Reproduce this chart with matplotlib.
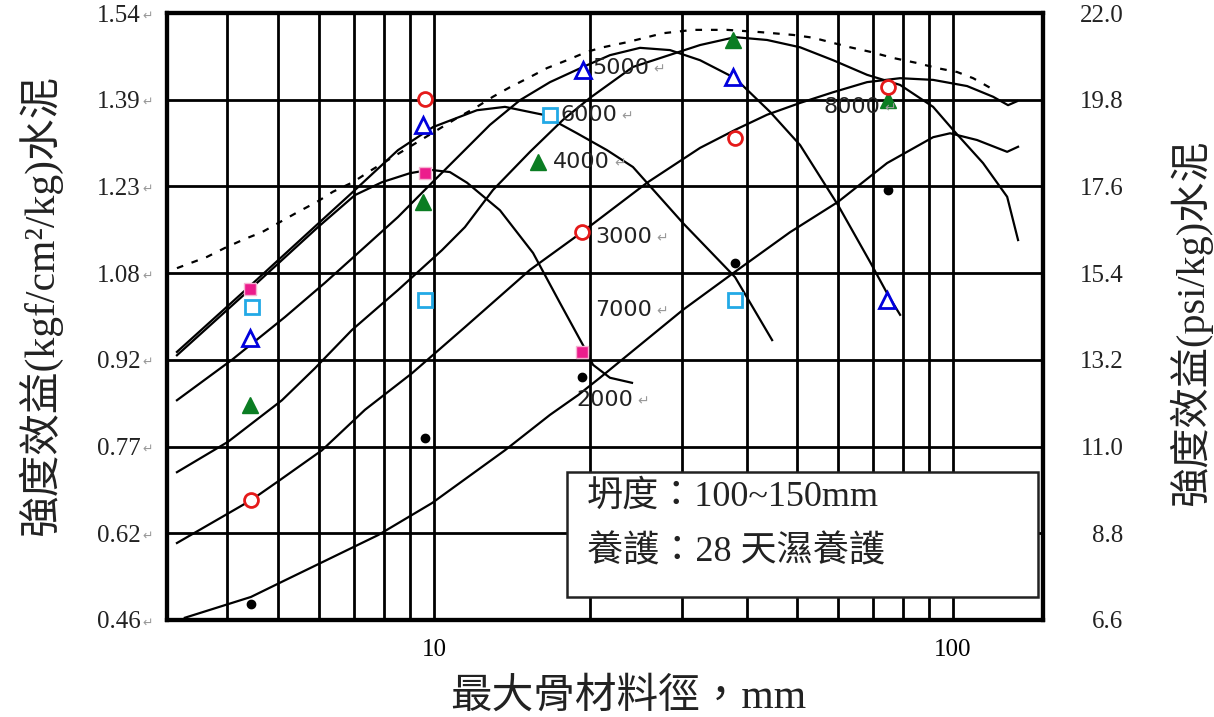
import matplotlib
matplotlib.use('Agg')
import matplotlib.pyplot as plt
from matplotlib.ticker import FixedLocator, NullFormatter
from matplotlib.patches import Rectangle

plt.rcParams['font.family'] = ['Liberation Serif', 'Noto Sans CJK TC']

# ---- curves: max aggregate size (mm) vs efficiency (kgf/cm2/kg) ----
pink_x = [3.198, 4.381, 5.978, 7.043, 7.942, 8.991, 9.824, 10.73, 11.58, 13.40, 15.52, 17.49, 19.37, 20.25, 21.83, 24.07]
pink_y = [0.931, 1.045, 1.159, 1.216, 1.239, 1.255, 1.261, 1.257, 1.238, 1.189, 1.113, 1.024, 0.949, 0.914, 0.891, 0.882]

cyan_x = [3.198, 4.381, 5.978, 7.043, 8.524, 9.955, 12.10, 13.70, 16.22, 18.86, 21.54, 24.17, 30.19, 38.02, 44.81]
cyan_y = [0.937, 1.051, 1.165, 1.225, 1.296, 1.337, 1.367, 1.373, 1.359, 1.326, 1.296, 1.266, 1.166, 1.070, 0.958]

blue_x = [3.198, 4.082, 5.163, 6.166, 7.363, 8.524, 9.911, 11.12, 12.82, 14.65, 16.73, 19.37, 21.83, 24.94,
          28.49, 32.55, 38.02, 44.41, 50.73, 60.04, 69.20, 74.96, 79.06]
blue_y = [0.851, 0.923, 0.999, 1.060, 1.124, 1.177, 1.238, 1.284, 1.341, 1.385, 1.417, 1.444, 1.465, 1.478,
          1.474, 1.456, 1.424, 1.364, 1.305, 1.198, 1.097, 1.038, 1.003]

green_x = [3.198, 4.010, 5.095, 5.899, 6.950, 8.524, 10.36, 11.47, 12.99, 15.31, 17.73, 19.98, 24.17, 32.55,
           38.02, 43.82, 50.73, 58.72, 68.28, 79.06, 91.52, 100.0, 114.2, 127.1, 133.4]
green_y = [0.723, 0.777, 0.851, 0.908, 0.976, 1.047, 1.118, 1.159, 1.225, 1.293, 1.350, 1.389, 1.444, 1.483,
           1.497, 1.492, 1.479, 1.456, 1.430, 1.412, 1.373, 1.332, 1.273, 1.213, 1.136]

red_x = [3.198, 4.440, 5.050, 6.085, 7.363, 9.070, 11.47, 15.31, 19.28, 25.73, 32.55, 38.02, 43.82, 50.73,
         58.72, 68.28, 79.06, 91.52, 106.4, 119.4, 127.6, 132.8]
red_y = [0.597, 0.673, 0.709, 0.762, 0.834, 0.899, 0.981, 1.083, 1.150, 1.238, 1.300, 1.332, 1.359, 1.380,
         1.399, 1.417, 1.424, 1.421, 1.410, 1.391, 1.376, 1.383]

black_x = [3.312, 4.440, 5.095, 7.802, 9.911, 13.70, 16.73, 18.94, 20.88, 30.19, 37.68, 48.52, 60.04, 74.62,
           91.52, 98.68, 111.2, 127.1, 133.4]
black_y = [0.464, 0.501, 0.528, 0.611, 0.668, 0.762, 0.825, 0.860, 0.891, 1.012, 1.077, 1.150, 1.204, 1.273,
           1.319, 1.326, 1.314, 1.293, 1.302]

dash_x = [3.198, 3.653, 3.956, 4.323, 4.663, 5.095, 5.470, 5.952, 6.389, 6.981, 7.594, 11.07, 12.10, 12.99,
          14.01, 15.31, 16.51, 18.04, 19.72, 21.16, 23.54, 27.62, 31.55, 36.69, 42.48, 49.17, 53.74, 63.32,
          69.20, 76.64, 85.24, 93.16, 101.8, 109.3, 117.8]
dash_y = [1.086, 1.106, 1.122, 1.138, 1.150, 1.170, 1.186, 1.204, 1.222, 1.239, 1.261, 1.353, 1.373, 1.391,
          1.408, 1.426, 1.442, 1.456, 1.471, 1.479, 1.488, 1.504, 1.510, 1.510, 1.506, 1.501, 1.496, 1.479,
          1.471, 1.460, 1.451, 1.442, 1.435, 1.424, 1.407]

# ---- measured points ----
pink_mx = [4.42, 9.61, 19.28]
pink_my = [1.049, 1.255, 0.937]
cyan_mx = [4.46, 9.61, 16.73, 38.02]
cyan_my = [1.017, 1.029, 1.359, 1.029]
blue_mx = [4.42, 9.52, 19.37, 37.68, 74.62]
blue_my = [0.962, 1.341, 1.438, 1.426, 1.029]
green_mx = [4.42, 9.52, 15.86, 37.68, 74.96]
green_my = [0.843, 1.204, 1.275, 1.492, 1.385]
red_mx = [4.44, 9.61, 19.28, 38.02, 74.96]
red_my = [0.673, 1.387, 1.150, 1.318, 1.408]
black_mx = [4.44, 9.61, 19.28, 38.02, 74.96]
black_my = [0.488, 0.784, 0.892, 1.095, 1.225]

# ---- curve labels ----
curve_labels = ['5000', '6000', '4000', '3000', '7000', '2000', '8000']
label_x = [20.16, 17.49, 16.95, 20.43, 20.43, 18.77, 56.17]
label_y = [1.442, 1.359, 1.275, 1.141, 1.012, 0.851, 1.373]

# ---- axes ticks ----
grid_x = [4, 5, 6, 7, 8, 9, 20, 30, 40, 50, 60, 70, 80, 90]
x_ticks = [10, 100]
y_ticks = [0.46 + k * 1.08 / 7 for k in range(8)]
y_labels = ['0.46', '0.62', '0.77', '0.92', '1.08', '1.23', '1.39', '1.54']
r_ticks = [6.6 + k * 2.2 for k in range(8)]
r_labels = ['6.6', '8.8', '11.0', '13.2', '15.4', '17.6', '19.8', '22.0']

fig = plt.figure(figsize=(12.14, 7.17), dpi=100)
ax = fig.add_axes([167 / 1214, 97 / 717, 876 / 1214, 607 / 717])
ax.set_xscale('log')
ax.set_xlim(3.06, 149)
ax.set_ylim(0.46, 1.54)

ax.xaxis.set_major_locator(FixedLocator(x_ticks))
ax.xaxis.set_minor_locator(FixedLocator(grid_x))
ax.xaxis.set_minor_formatter(NullFormatter())
ax.set_xticklabels([str(v) for v in x_ticks])
ax.set_yticks(y_ticks)
ax.set_yticklabels(y_labels)
ax.grid(True, which='both', color='black', lw=2.0, zorder=1)
ax.set_axisbelow(True)
ax.tick_params(which='both', length=0)
ax.tick_params(axis='x', labelsize=18, pad=14)
ax.tick_params(axis='y', labelsize=18, pad=19, labelcolor='#222222')
for s in ax.spines.values():
    s.set_linewidth(3)

# little paragraph marks after the left tick labels
for v in y_ticks:
    ax.annotate('↵', xy=(0, v), xycoords=('axes fraction', 'data'), xytext=(-14, -2),
                textcoords='offset points', ha='center', va='center', fontsize=9,
                color='#999999', family=['DejaVu Sans'])

ax2 = ax.twinx()
ax2.set_ylim(6.6, 22.0)
ax2.set_yticks(r_ticks)
ax2.set_yticklabels(r_labels)
ax2.tick_params(length=0, labelsize=18, pad=58, labelcolor='#222222')
for lab in ax2.get_yticklabels():
    lab.set_horizontalalignment('right')
for s in ax2.spines.values():
    s.set_linewidth(3)

# curves
for cx, cy in [(pink_x, pink_y), (cyan_x, cyan_y), (blue_x, blue_y),
               (green_x, green_y), (red_x, red_y), (black_x, black_y)]:
    ax.plot(cx, cy, color='black', lw=1.6, zorder=3, solid_joinstyle='round')
ax.plot(dash_x, dash_y, color='black', lw=1.6, ls=(0, (3, 4)), zorder=3)

# markers
ax.plot(pink_mx, pink_my, ls='none', marker='s', ms=8, mfc='#EC1C8C', mec='#F6B3D3', mew=1, zorder=4)
ax.plot(cyan_mx, cyan_my, ls='none', marker='s', ms=10, mfc='white', mec='#22A9E6', mew=2, zorder=4)
ax.plot(blue_mx, blue_my, ls='none', marker='^', ms=11, mfc='white', mec='#0000DD', mew=2, zorder=4)
ax.plot(green_mx, green_my, ls='none', marker='^', ms=12, mfc='#0B7D23', mec='#0B7D23', zorder=4)
ax.plot(red_mx, red_my, ls='none', marker='o', ms=10, mfc='white', mec='#E51A1A', mew=2, zorder=4)
ax.plot(black_mx, black_my, ls='none', marker='o', ms=6, color='black', zorder=4)

for t, lx, ly in zip(curve_labels, label_x, label_y):
    txt = ax.text(lx, ly, t, fontsize=16, family=['DejaVu Sans'], ha='left', va='center',
                  color='#222222', zorder=5)
    ax.annotate('↵', xy=(1, 0.5), xycoords=txt, xytext=(3, -1), textcoords='offset points',
                ha='left', va='center', fontsize=10, color='#999999', family=['DejaVu Sans'], zorder=5)

# info box
ax.add_patch(Rectangle((0.4566, 0.0379), 0.5377, 0.2059, transform=ax.transAxes,
                       fc='white', ec='#222222', lw=1.8, zorder=6))
box_font = ['Liberation Serif', 'Noto Sans CJK TC']
ax.text(0.4795, 0.2026, '坍度：100~150mm', transform=ax.transAxes, fontsize=26,
        family=box_font, ha='left', va='center', zorder=7, color='#222222', fontweight='light')
ax.text(0.4795, 0.112, '養護：28 天濕養護', transform=ax.transAxes, fontsize=26,
        family=box_font, ha='left', va='center', zorder=7, color='#222222', fontweight='light')

lab_font = ['Liberation Serif', 'Noto Sans CJK TC']
fig.text(40 / 1214, 1 - 305 / 717, '強度效益(kgf/cm²/kg)水泥', rotation=90, ha='center', va='center',
         fontsize=30, family=lab_font, color='#222222', fontweight='light')
fig.text(1190 / 1214, 1 - 323 / 717, '強度效益(psi/kg)水泥', rotation=90, ha='center', va='center',
         fontsize=29, family=lab_font, color='#222222', fontweight='light')
fig.text(628 / 1214, 1 - 697 / 717, '最大骨材料徑，mm', ha='center', va='center',
         fontsize=30, family=lab_font, color='#222222', fontweight='light')

fig.savefig('out.png', dpi=100)
